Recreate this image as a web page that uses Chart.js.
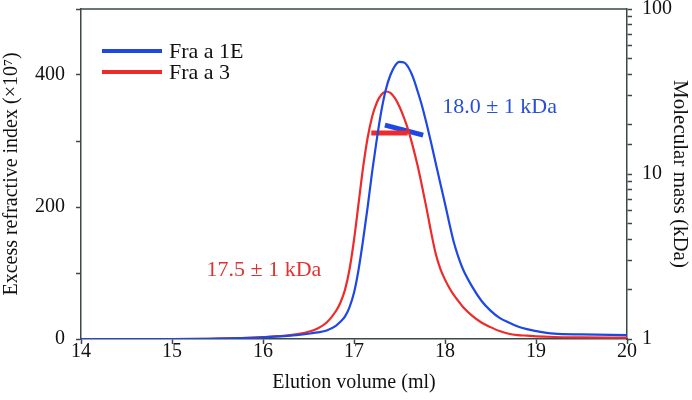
<!DOCTYPE html>
<html>
<head>
<meta charset="utf-8">
<script src="https://cdn.jsdelivr.net/npm/chart.js@4.4.0/dist/chart.umd.min.js"></script>
<style>
  body { margin: 0; background: #fff; }
</style>
</head>
<body>
<canvas id="sec-chart" width="692" height="400"></canvas>
<script>
// Elution volume (ml) sample points, shared by both traces
const elution = [14, 15, 15.5, 16, 16.3, 16.5, 16.6, 16.7, 16.8, 16.85, 16.9, 16.95, 17.0, 17.05, 17.1, 17.15,
                 17.2, 17.25, 17.3, 17.35, 17.4, 17.45, 17.5, 17.55, 17.6, 17.65, 17.7, 17.75, 17.8, 17.85,
                 17.9, 17.95, 18.0, 18.05, 18.1, 18.15, 18.2, 18.3, 18.4, 18.5, 18.6, 18.7, 18.8, 18.9,
                 19.0, 19.2, 19.5, 20];
// Excess refractive index (x10^7)
const riFra1E = [0, 0, 0.5, 2.5, 5, 8, 10, 13, 20, 26, 34, 48, 70, 105, 150, 200,
                 254, 302, 345, 378, 400, 414, 420, 419, 411, 396, 375, 352, 325, 296,
                 265, 235, 205, 174, 145, 123, 105, 79, 58, 43, 32, 25, 19, 15,
                 12, 8, 7, 6];
const riFra3 = [0, 0, 0.5, 3, 6, 11, 16, 25, 42, 55, 74, 105, 150, 205, 260, 305,
                337, 358, 370, 375, 373, 365, 352, 335, 315, 290, 262, 230, 196, 160,
                128, 106, 90, 77, 66, 57, 48, 35, 25, 18, 12, 8, 6, 5,
                4, 3, 2.5, 2];

// Molecular mass across the peak (kDa)
const massXFra1E = [17.34, 17.76];
const massFra1E = [19.8, 17.2];
const massXFra3 = [17.19, 17.59];
const massFra3 = [17.7, 17.7];

const seriesNames = ['Fra a 1E', 'Fra a 3'];
const leftTickLabels = [0, 200, 400];
const rightTickLabels = [1, 10, 100];
const massNotes = ['18.0 \u00b1 1 kDa', '17.5 \u00b1 1 kDa'];

const blue = 'rgb(30, 72, 228)';
const red = 'rgb(238, 42, 42)';
const axisColor = '#3c4848';
const serif = "'Liberation Serif', 'Times New Roman', serif";

const toPoints = (xs, ys) => xs.map((x, i) => ({ x: x, y: ys[i] }));

// top border, legend and the two mass notes
const overlay = {
    id: 'overlay',
    afterDraw(chart) {
        const { ctx, chartArea: a, scales } = chart;
        ctx.save();
        ctx.strokeStyle = axisColor;
        ctx.lineWidth = 1.5;
        ctx.beginPath();
        ctx.moveTo(a.left, a.top);
        ctx.lineTo(a.right, a.top);
        ctx.stroke();

        ctx.font = '22px ' + serif;
        ctx.textBaseline = 'middle';
        [blue, red].forEach((c, i) => {
            const y = 51 + i * 21;
            ctx.strokeStyle = c;
            ctx.lineWidth = 4;
            ctx.beginPath();
            ctx.moveTo(102, y);
            ctx.lineTo(162, y);
            ctx.stroke();
            ctx.fillStyle = '#111';
            ctx.fillText(seriesNames[i], 169, y + 1);
        });

        ctx.fillStyle = 'rgb(40, 80, 215)';
        ctx.fillText(massNotes[0], scales.x.getPixelForValue(17.97), scales.y.getPixelForValue(351));
        ctx.fillStyle = 'rgb(225, 50, 50)';
        ctx.fillText(massNotes[1], scales.x.getPixelForValue(15.38), scales.y.getPixelForValue(104));
        ctx.restore();
    }
};

const tickFont = { family: serif, size: 20 };
const titleFont = { family: serif, size: 20 };

new Chart(document.getElementById('sec-chart').getContext('2d'), {
    type: 'scatter',
    data: {
        datasets: [
            {
                label: seriesNames[0],
                data: toPoints(elution, riFra1E),
                borderColor: blue,
                borderWidth: 2.2,
                showLine: true,
                pointRadius: 0,
                cubicInterpolationMode: 'monotone',
                yAxisID: 'y'
            },
            {
                label: seriesNames[1],
                data: toPoints(elution, riFra3),
                borderColor: red,
                borderWidth: 2.2,
                showLine: true,
                pointRadius: 0,
                cubicInterpolationMode: 'monotone',
                yAxisID: 'y'
            },
            {
                label: 'mass 3',
                data: toPoints(massXFra3, massFra3),
                borderColor: red,
                borderWidth: 5,
                showLine: true,
                pointRadius: 0,
                yAxisID: 'y2'
            },
            {
                label: 'mass 1E',
                data: toPoints(massXFra1E, massFra1E),
                borderColor: blue,
                borderWidth: 5,
                showLine: true,
                pointRadius: 0,
                yAxisID: 'y2'
            }
        ]
    },
    options: {
        responsive: false,
        animation: false,
        devicePixelRatio: 1,
        layout: { padding: { top: 9, left: 0, right: 0, bottom: 0 } },
        plugins: {
            legend: { display: false },
            tooltip: { enabled: false }
        },
        scales: {
            x: {
                type: 'linear',
                min: 14,
                max: 20,
                afterFit(s) { s.height = 61; s.paddingLeft = 0; s.paddingRight = 0; },
                ticks: { stepSize: 1, color: '#111', font: tickFont, padding: -4, maxRotation: 0 },
                grid: { drawOnChartArea: false, tickLength: 5, color: axisColor, tickWidth: 1.5 },
                border: { color: axisColor, width: 1.5 },
                title: { display: true, text: 'Elution volume (ml)', color: '#111', font: titleFont, padding: { top: 0, bottom: 5 } }
            },
            y: {
                position: 'left',
                min: 0,
                max: 500,
                afterFit(s) { s.width = 81; s.paddingTop = 0; s.paddingBottom = 0; },
                ticks: {
                    stepSize: 100,
                    color: '#111',
                    font: tickFont,
                    padding: 11,
                    callback: v => leftTickLabels.includes(v) ? String(v) : ''
                },
                grid: { drawOnChartArea: false, tickLength: 5, color: axisColor, tickWidth: 1.5 },
                border: { color: axisColor, width: 1.5 },
                title: { display: true, text: 'Excess refractive index (\u00d710\u2077)', color: '#111', font: titleFont, padding: { top: 0, bottom: 0 } }
            },
            y2: {
                type: 'logarithmic',
                position: 'right',
                min: 1,
                max: 100,
                afterFit(s) { s.width = 65; s.paddingTop = 0; s.paddingBottom = 0; },
                ticks: {
                    autoSkip: false,
                    color: '#111',
                    font: tickFont,
                    padding: 10,
                    callback: v => rightTickLabels.includes(v) ? String(v) : ''
                },
                grid: { drawOnChartArea: false, tickLength: 5, color: axisColor, tickWidth: 1.5 },
                border: { color: axisColor, width: 1.5 },
                title: { display: true, text: 'Molecular mass (kDa)', color: '#111', font: { family: serif, size: 21 }, padding: { top: 0, bottom: 0 } }
            }
        }
    },
    plugins: [overlay]
});
</script>
</body>
</html>
